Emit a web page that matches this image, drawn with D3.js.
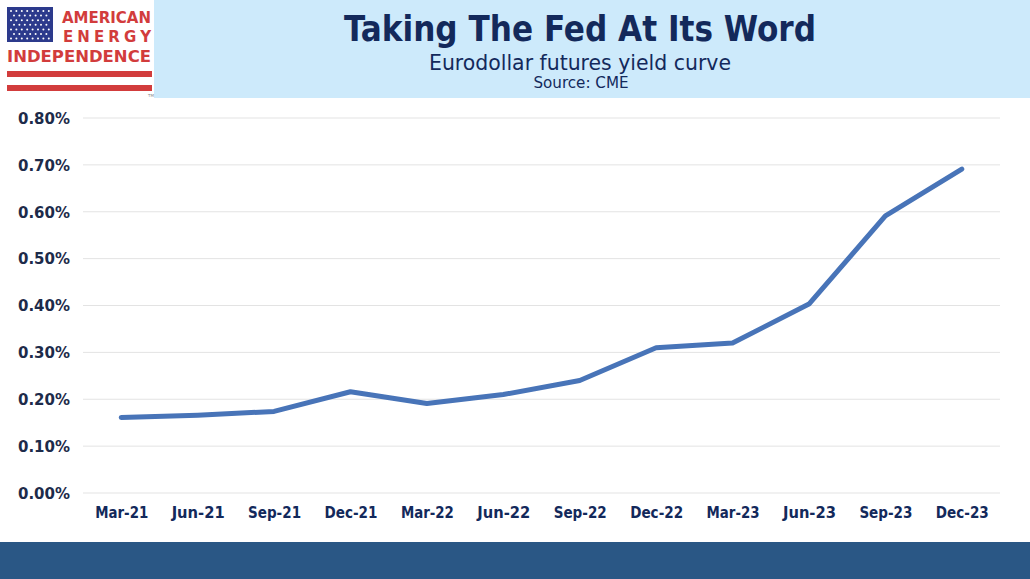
<!DOCTYPE html>
<html>
<head>
<meta charset="utf-8">
<script src="https://cdn.jsdelivr.net/npm/d3@7"></script>
<style>
  body { margin: 0; background: #fff; }
  svg { display: block; }
</style>
</head>
<body>
<svg id="chart" width="1030" height="579"></svg>
<script>
const categories = ["Mar-21", "Jun-21", "Sep-21", "Dec-21", "Mar-22", "Jun-22",
                    "Sep-22", "Dec-22", "Mar-23", "Jun-23", "Sep-23", "Dec-23"];
const yieldValues = [0.161, 0.166, 0.174, 0.216, 0.191, 0.210,
                     0.240, 0.310, 0.320, 0.403, 0.591, 0.691];
const yTicks = [0, 0.1, 0.2, 0.3, 0.4, 0.5, 0.6, 0.7, 0.8];

const svg = d3.select("#chart");
const navy = "#13295b";

// header band
svg.append("rect")
    .attr("x", 154).attr("y", 0)
    .attr("width", 876).attr("height", 98)
    .attr("fill", "#cdeafb");

svg.append("text")
    .attr("x", 580).attr("y", 41)
    .attr("text-anchor", "middle")
    .attr("font-family", "DejaVu Sans Condensed, DejaVu Sans")
    .attr("font-weight", "bold")
    .attr("font-size", "35px")
    .attr("textLength", 472)
    .attr("lengthAdjust", "spacingAndGlyphs")
    .attr("fill", navy)
    .text("Taking The Fed At Its Word");

svg.append("text")
    .attr("x", 580).attr("y", 70)
    .attr("text-anchor", "middle")
    .attr("font-family", "DejaVu Sans Condensed, DejaVu Sans")
    .attr("font-size", "22px")
    .attr("textLength", 302)
    .attr("lengthAdjust", "spacingAndGlyphs")
    .attr("fill", navy)
    .text("Eurodollar futures yield curve");

svg.append("text")
    .attr("x", 581).attr("y", 88)
    .attr("text-anchor", "middle")
    .attr("font-family", "DejaVu Sans Condensed, DejaVu Sans")
    .attr("font-size", "16px")
    .attr("textLength", 95)
    .attr("lengthAdjust", "spacingAndGlyphs")
    .attr("fill", navy)
    .text("Source: CME");

// logo
const logo = svg.append("g");
const red = "#d23c3c";
logo.append("rect")
    .attr("x", 7).attr("y", 7)
    .attr("width", 46).attr("height", 35)
    .attr("fill", "#2c3a8c");
for (let r = 0; r < 7; r++) {
    for (let c = 0; c < 8; c++) {
        const ox = r % 2 ? 3 : 0;
        if (r % 2 && c === 7) continue;
        logo.append("circle")
            .attr("cx", 11 + c * 5.4 + ox)
            .attr("cy", 11 + r * 4.6)
            .attr("r", 1)
            .attr("fill", "#fff");
    }
}
logo.append("text")
    .attr("x", 62).attr("y", 23)
    .attr("font-family", "DejaVu Sans")
    .attr("font-weight", "bold")
    .attr("font-size", "15px")
    .attr("textLength", 89)
    .attr("lengthAdjust", "spacingAndGlyphs")
    .attr("fill", red)
    .text("AMERICAN");
logo.append("text")
    .attr("x", 63).attr("y", 42)
    .attr("font-family", "DejaVu Sans")
    .attr("font-weight", "bold")
    .attr("font-size", "15px")
    .attr("textLength", 88)
    .attr("lengthAdjust", "spacing")
    .attr("fill", red)
    .text("ENERGY");
logo.append("text")
    .attr("x", 7).attr("y", 62)
    .attr("font-family", "DejaVu Sans")
    .attr("font-weight", "bold")
    .attr("font-size", "15px")
    .attr("textLength", 144)
    .attr("lengthAdjust", "spacingAndGlyphs")
    .attr("fill", red)
    .text("INDEPENDENCE");
[71, 85].forEach(y => {
    logo.append("rect")
        .attr("x", 7).attr("y", y)
        .attr("width", 145).attr("height", 6)
        .attr("fill", red);
});
logo.append("text")
    .attr("x", 148).attr("y", 97)
    .attr("font-family", "DejaVu Sans")
    .attr("font-size", "4px")
    .attr("fill", "#888")
    .text("TM");

// plot
const x = d3.scalePoint()
    .domain(categories)
    .range([83, 1000])
    .padding(0.5);

const y = d3.scaleLinear()
    .domain([0, 0.8])
    .range([493, 118]);

svg.append("g")
    .selectAll("line")
    .data(yTicks)
    .join("line")
    .attr("x1", 83).attr("x2", 1000)
    .attr("y1", d => y(d)).attr("y2", d => y(d))
    .attr("stroke", "#e3e3e3")
    .attr("stroke-width", 1);

const yAxis = svg.append("g")
    .attr("transform", "translate(70,0)")
    .call(d3.axisLeft(y).tickValues(yTicks).tickSize(0).tickFormat(d => d.toFixed(2) + "%"));
yAxis.select(".domain").remove();
yAxis.selectAll("text")
    .attr("x", 0)
    .attr("dy", "0.35em")
    .attr("font-family", "DejaVu Sans")
    .attr("font-weight", "bold")
    .attr("font-size", "15px")
    .attr("fill", "#1d2b4a");

const xAxis = svg.append("g")
    .attr("transform", "translate(0,493)")
    .call(d3.axisBottom(x).tickSize(0));
xAxis.select(".domain").remove();
xAxis.selectAll("text")
    .attr("y", 25)
    .attr("dy", 0)
    .attr("font-family", "DejaVu Sans Condensed, DejaVu Sans")
    .attr("font-weight", "bold")
    .attr("font-size", "15px")
    .attr("textLength", 53)
    .attr("lengthAdjust", "spacingAndGlyphs")
    .attr("fill", navy);

const line = d3.line()
    .x((d, i) => x(categories[i]))
    .y(d => y(d));

svg.append("path")
    .datum(yieldValues)
    .attr("d", line)
    .attr("fill", "none")
    .attr("stroke", "#4874b8")
    .attr("stroke-width", 5)
    .attr("stroke-linejoin", "round")
    .attr("stroke-linecap", "round");

// footer band
svg.append("rect")
    .attr("x", 0).attr("y", 542)
    .attr("width", 1030).attr("height", 37)
    .attr("fill", "#2a5785");
</script>
</body>
</html>
